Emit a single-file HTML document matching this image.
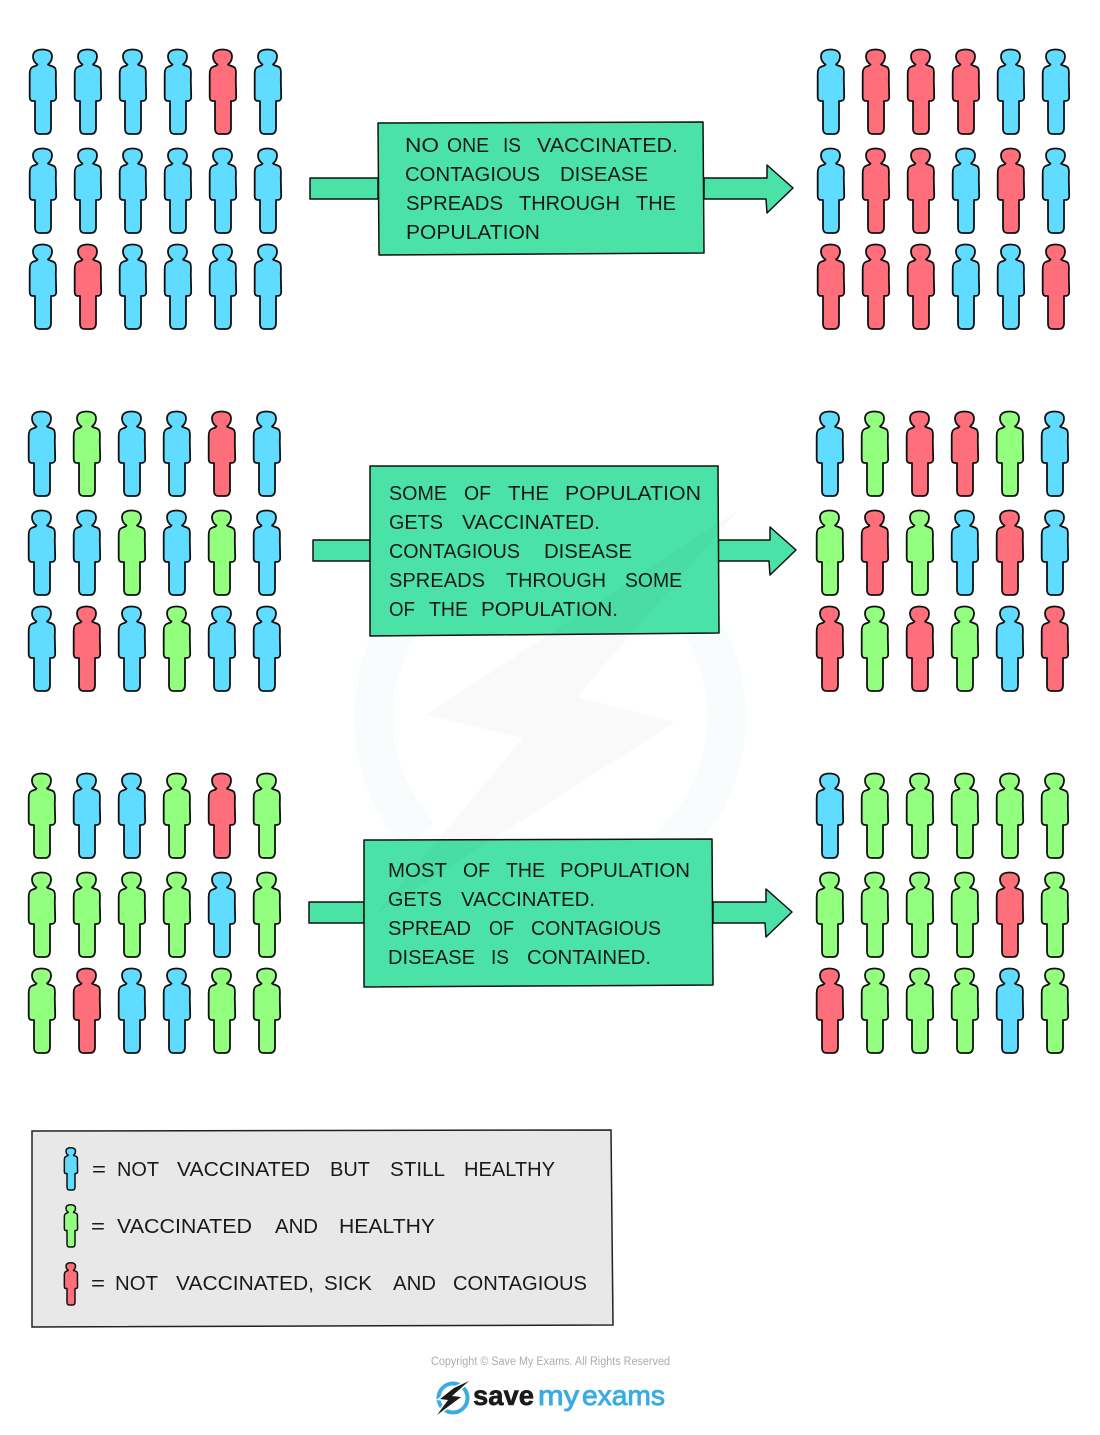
<!DOCTYPE html>
<html><head><meta charset="utf-8"><style>
html,body{margin:0;padding:0;background:#fff}
svg{display:block}
text{font-family:"Liberation Sans",sans-serif}
.t text{font-size:20px;fill:#1a1a1a}
.p{stroke:#111;stroke-width:1.8;stroke-linejoin:round}
.b{fill:#5fdcff}.g{fill:#93ff7e}.r{fill:#ff6f7b}
.box{fill:#4be2a8;stroke:#111;stroke-width:1.5;stroke-linejoin:round}
</style></head><body>
<svg width="1100" height="1435" viewBox="0 0 1100 1435" xmlns="http://www.w3.org/2000/svg">
<defs>
<path id="m" d="M-5.5,14.5 C-8.5,12.5 -10,9.5 -10,6.5 C-10,1.5 -6,-0.5 -0.5,-0.5 C5,-0.5 9,1.5 9,6.5 C9,9.5 7.5,12.5 5,14.5 C7,16 10.5,16 12,18 C13.5,20 12.8,24 12.8,30 L13.2,47 C13.2,50 12,51 9,51 L8,51 L8,78 C8,82 6.5,84 3,84 L-3,84 C-7,84 -8,82 -8,78 L-8,51 L-10,51 C-12.5,51 -13.3,49.5 -13.3,47 L-13.3,24 C-13.3,19 -12,17.5 -10,16.8 C-8,16 -6.5,16 -5.5,14.5 Z"/>
</defs>

<!-- watermark -->
<circle cx="550" cy="717" r="176.5" fill="none" stroke="#f8fcfd" stroke-width="39"/>
<polygon points="738,510 577,697 675,722 375,915 523,738 426,715" fill="#fff" stroke="#fff" stroke-width="30"/>

<!-- people: block 1 left -->
<g class="p">
<use href="#m" x="43" y="50" class="b"/><use href="#m" x="88" y="50" class="b"/><use href="#m" x="133" y="50" class="b"/><use href="#m" x="178" y="50" class="b"/><use href="#m" x="223" y="50" class="r"/><use href="#m" x="268" y="50" class="b"/>
<use href="#m" x="43" y="149" class="b"/><use href="#m" x="88" y="149" class="b"/><use href="#m" x="133" y="149" class="b"/><use href="#m" x="178" y="149" class="b"/><use href="#m" x="223" y="149" class="b"/><use href="#m" x="268" y="149" class="b"/>
<use href="#m" x="43" y="245" class="b"/><use href="#m" x="88" y="245" class="r"/><use href="#m" x="133" y="245" class="b"/><use href="#m" x="178" y="245" class="b"/><use href="#m" x="223" y="245" class="b"/><use href="#m" x="268" y="245" class="b"/>
<!-- block 1 right -->
<use href="#m" x="831" y="50" class="b"/><use href="#m" x="876" y="50" class="r"/><use href="#m" x="921" y="50" class="r"/><use href="#m" x="966" y="50" class="r"/><use href="#m" x="1011" y="50" class="b"/><use href="#m" x="1056" y="50" class="b"/>
<use href="#m" x="831" y="149" class="b"/><use href="#m" x="876" y="149" class="r"/><use href="#m" x="921" y="149" class="r"/><use href="#m" x="966" y="149" class="b"/><use href="#m" x="1011" y="149" class="r"/><use href="#m" x="1056" y="149" class="b"/>
<use href="#m" x="831" y="245" class="r"/><use href="#m" x="876" y="245" class="r"/><use href="#m" x="921" y="245" class="r"/><use href="#m" x="966" y="245" class="b"/><use href="#m" x="1011" y="245" class="b"/><use href="#m" x="1056" y="245" class="r"/>
<!-- block 2 left -->
<use href="#m" x="42" y="412" class="b"/><use href="#m" x="87" y="412" class="g"/><use href="#m" x="132" y="412" class="b"/><use href="#m" x="177" y="412" class="b"/><use href="#m" x="222" y="412" class="r"/><use href="#m" x="267" y="412" class="b"/>
<use href="#m" x="42" y="511" class="b"/><use href="#m" x="87" y="511" class="b"/><use href="#m" x="132" y="511" class="g"/><use href="#m" x="177" y="511" class="b"/><use href="#m" x="222" y="511" class="g"/><use href="#m" x="267" y="511" class="b"/>
<use href="#m" x="42" y="607" class="b"/><use href="#m" x="87" y="607" class="r"/><use href="#m" x="132" y="607" class="b"/><use href="#m" x="177" y="607" class="g"/><use href="#m" x="222" y="607" class="b"/><use href="#m" x="267" y="607" class="b"/>
<!-- block 2 right -->
<use href="#m" x="830" y="412" class="b"/><use href="#m" x="875" y="412" class="g"/><use href="#m" x="920" y="412" class="r"/><use href="#m" x="965" y="412" class="r"/><use href="#m" x="1010" y="412" class="g"/><use href="#m" x="1055" y="412" class="b"/>
<use href="#m" x="830" y="511" class="g"/><use href="#m" x="875" y="511" class="r"/><use href="#m" x="920" y="511" class="g"/><use href="#m" x="965" y="511" class="b"/><use href="#m" x="1010" y="511" class="r"/><use href="#m" x="1055" y="511" class="b"/>
<use href="#m" x="830" y="607" class="r"/><use href="#m" x="875" y="607" class="g"/><use href="#m" x="920" y="607" class="r"/><use href="#m" x="965" y="607" class="g"/><use href="#m" x="1010" y="607" class="b"/><use href="#m" x="1055" y="607" class="r"/>
<!-- block 3 left -->
<use href="#m" x="42" y="774" class="g"/><use href="#m" x="87" y="774" class="b"/><use href="#m" x="132" y="774" class="b"/><use href="#m" x="177" y="774" class="g"/><use href="#m" x="222" y="774" class="r"/><use href="#m" x="267" y="774" class="g"/>
<use href="#m" x="42" y="873" class="g"/><use href="#m" x="87" y="873" class="g"/><use href="#m" x="132" y="873" class="g"/><use href="#m" x="177" y="873" class="g"/><use href="#m" x="222" y="873" class="b"/><use href="#m" x="267" y="873" class="g"/>
<use href="#m" x="42" y="969" class="g"/><use href="#m" x="87" y="969" class="r"/><use href="#m" x="132" y="969" class="b"/><use href="#m" x="177" y="969" class="b"/><use href="#m" x="222" y="969" class="g"/><use href="#m" x="267" y="969" class="g"/>
<!-- block 3 right -->
<use href="#m" x="830" y="774" class="b"/><use href="#m" x="875" y="774" class="g"/><use href="#m" x="920" y="774" class="g"/><use href="#m" x="965" y="774" class="g"/><use href="#m" x="1010" y="774" class="g"/><use href="#m" x="1055" y="774" class="g"/>
<use href="#m" x="830" y="873" class="g"/><use href="#m" x="875" y="873" class="g"/><use href="#m" x="920" y="873" class="g"/><use href="#m" x="965" y="873" class="g"/><use href="#m" x="1010" y="873" class="r"/><use href="#m" x="1055" y="873" class="g"/>
<use href="#m" x="830" y="969" class="r"/><use href="#m" x="875" y="969" class="g"/><use href="#m" x="920" y="969" class="g"/><use href="#m" x="965" y="969" class="g"/><use href="#m" x="1010" y="969" class="b"/><use href="#m" x="1055" y="969" class="g"/>
</g>

<!-- arrows -->
<polygon class="box" points="310,178 378,178 378,199 310,199"/>
<polygon class="box" points="704,178 767,178 767,165 793,188 767,213 766,199 704,199"/>
<polygon class="box" points="313,540 370,540 370,561 313,561"/>
<polygon class="box" points="718,540 770,540 770,527 796,550 770,575 769,561 718,561"/>
<polygon class="box" points="309,902 364,902 364,923 309,923"/>
<polygon class="box" points="713,902 766,902 766,889 792,912 766,937 765,923 713,923"/>

<!-- boxes -->
<polygon class="box" points="378,123 703,122 704,253 379,255"/>
<polygon class="box" points="370,466 718,466 719,633 370,636"/>
<polygon class="box" points="364,840 712,839 713,985 364,987"/>

<!-- bolt overlay -->
<polygon points="738,510 577,697 675,722 375,915 523,738 426,715" fill="rgba(0,0,0,0.025)"/>

<!-- legend -->
<polygon points="32,1131 611,1130 613,1325 32,1327" fill="#e8e8e8" stroke="#222" stroke-width="1.5"/>
<g class="p" style="stroke-width:3">
<use href="#m" transform="translate(71,1148) scale(.5)" class="b"/>
<use href="#m" transform="translate(71,1205) scale(.5)" class="g"/>
<use href="#m" transform="translate(71,1263) scale(.5)" class="r"/>
</g>

<g class="t">
<!-- box 1 -->
<text x="405" y="152" textLength="34" lengthAdjust="spacingAndGlyphs">NO</text>
<text x="447" y="152" textLength="42" lengthAdjust="spacingAndGlyphs">ONE</text>
<text x="503" y="152" textLength="18" lengthAdjust="spacingAndGlyphs">IS</text>
<text x="537" y="152" textLength="141" lengthAdjust="spacingAndGlyphs">VACCINATED.</text>
<text x="405" y="181" textLength="135" lengthAdjust="spacingAndGlyphs">CONTAGIOUS</text>
<text x="560" y="181" textLength="88" lengthAdjust="spacingAndGlyphs">DISEASE</text>
<text x="406" y="210" textLength="97" lengthAdjust="spacingAndGlyphs">SPREADS</text>
<text x="519" y="210" textLength="101" lengthAdjust="spacingAndGlyphs">THROUGH</text>
<text x="636" y="210" textLength="40" lengthAdjust="spacingAndGlyphs">THE</text>
<text x="406" y="239" textLength="134" lengthAdjust="spacingAndGlyphs">POPULATION</text>
<!-- box 2 -->
<text x="389" y="500" textLength="58" lengthAdjust="spacingAndGlyphs">SOME</text>
<text x="464" y="500" textLength="27" lengthAdjust="spacingAndGlyphs">OF</text>
<text x="508" y="500" textLength="41" lengthAdjust="spacingAndGlyphs">THE</text>
<text x="565" y="500" textLength="136" lengthAdjust="spacingAndGlyphs">POPULATION</text>
<text x="389" y="529" textLength="54" lengthAdjust="spacingAndGlyphs">GETS</text>
<text x="462" y="529" textLength="138" lengthAdjust="spacingAndGlyphs">VACCINATED.</text>
<text x="389" y="558" textLength="131" lengthAdjust="spacingAndGlyphs">CONTAGIOUS</text>
<text x="544" y="558" textLength="88" lengthAdjust="spacingAndGlyphs">DISEASE</text>
<text x="389" y="587" textLength="96" lengthAdjust="spacingAndGlyphs">SPREADS</text>
<text x="506" y="587" textLength="100" lengthAdjust="spacingAndGlyphs">THROUGH</text>
<text x="625" y="587" textLength="57" lengthAdjust="spacingAndGlyphs">SOME</text>
<text x="389" y="616" textLength="26" lengthAdjust="spacingAndGlyphs">OF</text>
<text x="429" y="616" textLength="39" lengthAdjust="spacingAndGlyphs">THE</text>
<text x="481" y="616" textLength="137" lengthAdjust="spacingAndGlyphs">POPULATION.</text>
<!-- box 3 -->
<text x="388" y="877" textLength="59" lengthAdjust="spacingAndGlyphs">MOST</text>
<text x="463" y="877" textLength="27" lengthAdjust="spacingAndGlyphs">OF</text>
<text x="506" y="877" textLength="39" lengthAdjust="spacingAndGlyphs">THE</text>
<text x="560" y="877" textLength="130" lengthAdjust="spacingAndGlyphs">POPULATION</text>
<text x="388" y="906" textLength="54" lengthAdjust="spacingAndGlyphs">GETS</text>
<text x="461" y="906" textLength="134" lengthAdjust="spacingAndGlyphs">VACCINATED.</text>
<text x="388" y="935" textLength="83" lengthAdjust="spacingAndGlyphs">SPREAD</text>
<text x="489" y="935" textLength="25" lengthAdjust="spacingAndGlyphs">OF</text>
<text x="531" y="935" textLength="130" lengthAdjust="spacingAndGlyphs">CONTAGIOUS</text>
<text x="388" y="964" textLength="87" lengthAdjust="spacingAndGlyphs">DISEASE</text>
<text x="491" y="964" textLength="18" lengthAdjust="spacingAndGlyphs">IS</text>
<text x="527" y="964" textLength="124" lengthAdjust="spacingAndGlyphs">CONTAINED.</text>
<!-- legend -->
<text x="92" y="1176" textLength="14" lengthAdjust="spacingAndGlyphs">=</text>
<text x="117" y="1176" textLength="42" lengthAdjust="spacingAndGlyphs">NOT</text>
<text x="177" y="1176" textLength="133" lengthAdjust="spacingAndGlyphs">VACCINATED</text>
<text x="330" y="1176" textLength="40" lengthAdjust="spacingAndGlyphs">BUT</text>
<text x="390" y="1176" textLength="55" lengthAdjust="spacingAndGlyphs">STILL</text>
<text x="464" y="1176" textLength="91" lengthAdjust="spacingAndGlyphs">HEALTHY</text>
<text x="91" y="1233" textLength="14" lengthAdjust="spacingAndGlyphs">=</text>
<text x="117" y="1233" textLength="135" lengthAdjust="spacingAndGlyphs">VACCINATED</text>
<text x="275" y="1233" textLength="43" lengthAdjust="spacingAndGlyphs">AND</text>
<text x="339" y="1233" textLength="96" lengthAdjust="spacingAndGlyphs">HEALTHY</text>
<text x="91" y="1290" textLength="14" lengthAdjust="spacingAndGlyphs">=</text>
<text x="115" y="1290" textLength="43" lengthAdjust="spacingAndGlyphs">NOT</text>
<text x="176" y="1290" textLength="138" lengthAdjust="spacingAndGlyphs">VACCINATED,</text>
<text x="324" y="1290" textLength="48" lengthAdjust="spacingAndGlyphs">SICK</text>
<text x="393" y="1290" textLength="43" lengthAdjust="spacingAndGlyphs">AND</text>
<text x="453" y="1290" textLength="134" lengthAdjust="spacingAndGlyphs">CONTAGIOUS</text>
</g>

<!-- footer -->
<text x="431" y="1365" font-size="11.5" fill="#adadad" textLength="239" lengthAdjust="spacingAndGlyphs">Copyright © Save My Exams. All Rights Reserved</text>
<circle cx="453" cy="1398" r="14.5" fill="none" stroke="#3aace3" stroke-width="4"/>
<polygon points="469,1381 452,1396 461,1397 437,1415 448,1400 440,1399 454,1388" fill="#fff" stroke="#fff" stroke-width="3"/>
<polygon points="469,1381 452,1396 461,1397 437,1415 448,1400 440,1399 454,1388" fill="#1a1a1a"/>
<text x="473" y="1405" font-size="28" font-weight="bold" fill="#1a1a1a" stroke="#1a1a1a" stroke-width=".6" textLength="61" lengthAdjust="spacingAndGlyphs">save</text>
<text x="538" y="1405" font-size="28" fill="#3aace3" stroke="#3aace3" stroke-width=".9" textLength="41" lengthAdjust="spacingAndGlyphs">my</text>
<text x="582" y="1405" font-size="28" fill="#3aace3" stroke="#3aace3" stroke-width=".9" textLength="83" lengthAdjust="spacingAndGlyphs">exams</text>
</svg>
</body></html>
